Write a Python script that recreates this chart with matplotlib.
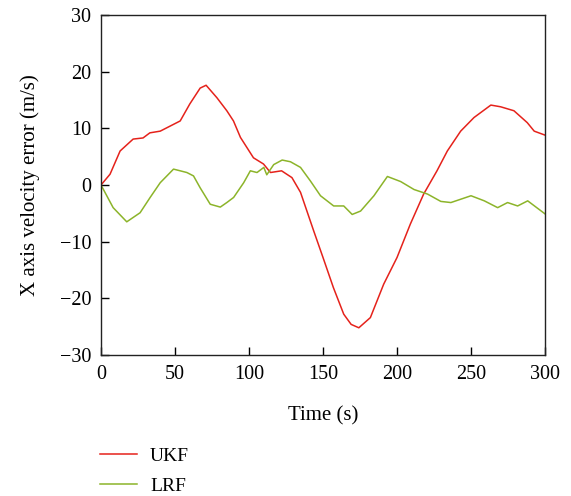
import numpy as np
import matplotlib
matplotlib.use('Agg')
import matplotlib.pyplot as plt

plt.rcParams['font.family'] = ['Liberation Serif', 'DejaVu Serif']

# UKF velocity error
ukf_t = [0, 6.1, 12.9, 21.7, 28.4, 33, 40, 53.5, 60, 67, 71, 78.3, 85, 89.5, 94.2,
         103, 109.8, 114.5, 122, 129, 134.8, 143.7, 150, 157, 164, 169, 174.2,
         182, 191, 200, 209, 218, 227, 234, 243, 252, 263.4, 270, 279, 288, 292.7, 300]
ukf_v = [0, 1.9, 6.0, 8.1, 8.3, 9.2, 9.5, 11.3, 14.3, 17.1, 17.6, 15.4, 13.1, 11.3, 8.4,
         4.8, 3.7, 2.2, 2.5, 1.3, -1.3, -8.1, -12.8, -18.1, -22.8, -24.6, -25.2,
         -23.4, -17.5, -12.8, -6.9, -1.6, 2.5, 6.0, 9.5, 11.9, 14.1, 13.8, 13.1, 11.0, 9.5, 8.8]

# LRF velocity error
lrf_t = [0, 8.2, 17.4, 26.4, 33.2, 40, 49, 58, 62.5, 67, 73.8, 80.6, 85, 89.6, 96.4,
         100.9, 105.4, 110, 112, 116.7, 122.4, 128, 134.8, 141.5, 148.3, 157.2, 164,
         169.7, 175.4, 184.4, 193.5, 202.5, 211.5, 220.6, 229.6, 236.4, 250, 259, 268,
         274.7, 281.5, 288.3, 300]
lrf_v = [0, -4.0, -6.5, -4.9, -2.2, 0.4, 2.8, 2.2, 1.6, -0.5, -3.4, -3.9, -3.1, -2.2, 0.4,
         2.5, 2.2, 3.1, 1.8, 3.6, 4.4, 4.1, 3.1, 0.7, -1.9, -3.7, -3.7,
         -5.2, -4.6, -1.9, 1.5, 0.6, -0.8, -1.6, -2.9, -3.1, -1.9, -2.8, -4.0,
         -3.1, -3.7, -2.8, -5.1]

fig = plt.figure(figsize=(5.71, 4.96), dpi=100)
ax = fig.add_axes([0.1769, 0.2843, 0.7776, 0.6855])

ax.plot(ukf_t, ukf_v, color='#e5221b', linewidth=1.1, label='UKF')
ax.plot(lrf_t, lrf_v, color='#8cb42a', linewidth=1.1, label='LRF')

ax.set_xlim(0, 300)
ax.set_ylim(-30, 30)
ax.set_xticks(np.arange(0, 301, 50))
ax.set_yticks(np.arange(-30, 31, 10))
ax.set_yticklabels(['\u221230', '\u221220', '\u221210', '0', '10', '20', '30'])
ax.tick_params(direction='in', length=6, width=1, labelsize=14.5, pad=7,
               top=False, right=False)
for s in ax.spines.values():
    s.set_linewidth(1.0)
    s.set_color('#222222')

ax.set_xlabel('Time (s)', fontsize=15, labelpad=16)
ax.set_ylabel('X axis velocity error (m/s)', fontsize=15, labelpad=14)

fig.legend(loc='upper left', bbox_to_anchor=(0.176, 0.098), frameon=False,
           fontsize=14, handlelength=1.9, handletextpad=0.65, labelspacing=0.62,
           borderaxespad=0, borderpad=0)

fig.savefig('out.png', dpi=100)
